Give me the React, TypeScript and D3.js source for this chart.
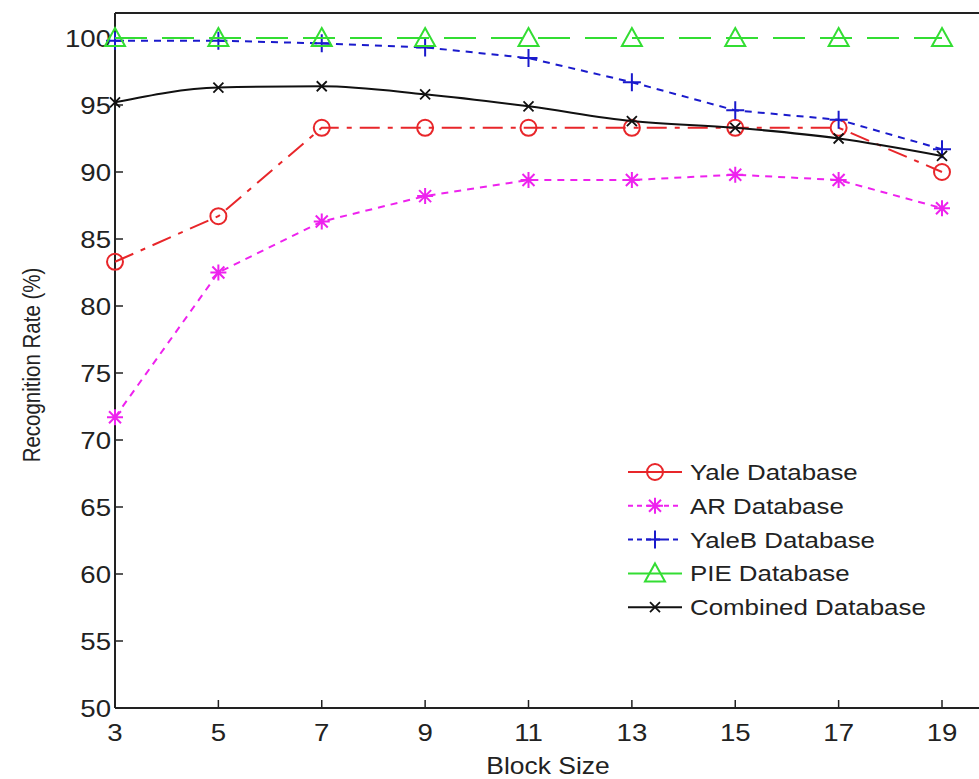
import React from "react";
import * as d3 from "d3";

const blockSizes = [3, 5, 7, 9, 11, 13, 15, 17, 19];
const yaleValues = [83.3, 86.7, 93.3, 93.3, 93.3, 93.3, 93.3, 93.3, 90.0];
const arValues = [71.7, 82.5, 86.3, 88.2, 89.4, 89.4, 89.8, 89.4, 87.3];
const yaleBValues = [99.8, 99.8, 99.6, 99.3, 98.5, 96.7, 94.6, 93.9, 91.7];
const pieValues = [100, 100, 100, 100, 100, 100, 100, 100, 100];
const combinedValues = [95.2, 96.3, 96.4, 95.8, 94.9, 93.8, 93.3, 92.5, 91.2];
const yTicks = [50, 55, 60, 65, 70, 75, 80, 85, 90, 95, 100];
const xTicks = [3, 5, 7, 9, 11, 13, 15, 17, 19];
const seriesNames = ["Yale Database", "AR Database", "YaleB Database", "PIE Database", "Combined Database"];

type Marker = "circle" | "star" | "plus" | "triangle" | "x";
const seriesDefs: { name: string; values: number[]; color: string; dash: string; legendDash: string; marker: Marker; curve: boolean }[] = [
  { name: seriesNames[0], values: yaleValues, color: "#e8262a", dash: "20,8,5,8", legendDash: "", marker: "circle", curve: false },
  { name: seriesNames[1], values: arValues, color: "#ee22ee", dash: "7,6", legendDash: "5,4", marker: "star", curve: false },
  { name: seriesNames[2], values: yaleBValues, color: "#1a1acc", dash: "7,6", legendDash: "5,4", marker: "plus", curve: false },
  { name: seriesNames[3], values: pieValues, color: "#33dd33", dash: "32,15", legendDash: "", marker: "triangle", curve: false },
  { name: seriesNames[4], values: combinedValues, color: "#111111", dash: "", legendDash: "", marker: "x", curve: true },
];

function MarkerShape({ type, x, y, color }: { type: Marker; x: number; y: number; color: string }) {
  const sw = 2;
  if (type === "circle") return <circle cx={x} cy={y} r={8} fill="none" stroke={color} strokeWidth={sw} />;
  if (type === "triangle") {
    const s = 10;
    return <path d={`M${x},${y - s}L${x + s},${y + s * 0.8}L${x - s},${y + s * 0.8}Z`} fill="none" stroke={color} strokeWidth={sw} />;
  }
  if (type === "plus") {
    const s = 9;
    return <path d={`M${x - s},${y}H${x + s}M${x},${y - s}V${y + s}`} stroke={color} strokeWidth={sw} />;
  }
  if (type === "x") {
    const s = 5;
    return <path d={`M${x - s},${y - s}L${x + s},${y + s}M${x - s},${y + s}L${x + s},${y - s}`} stroke={color} strokeWidth={1.8} />;
  }
  const s = 8, d = 6;
  return (
    <path
      d={`M${x - s},${y}H${x + s}M${x},${y - s}V${y + s}M${x - d},${y - d}L${x + d},${y + d}M${x - d},${y + d}L${x + d},${y - d}`}
      stroke={color}
      strokeWidth={2}
    />
  );
}

const font = "'Liberation Sans', Arial, sans-serif";
const SX = 1.15;

function WideText({ x, y, anchor, size, children }: { x: number; y: number; anchor: string; size: number; children: React.ReactNode }) {
  return (
    <text transform={`translate(${x},${y}) scale(${SX},1)`} textAnchor={anchor} fontFamily={font} fontSize={size} fill="#222">
      {children}
    </text>
  );
}

export default function App() {
  const W = 979, H = 779;
  const left = 115, bottom = 708, top = 13;
  const x = d3.scaleLinear().domain([3, 19]).range([left, 942]);
  const y = d3.scaleLinear().domain([50, 100]).range([bottom, 38]);
  const rightEdge = x(20);

  return (
    <svg width={W} height={H} style={{ position: "absolute", left: 0, top: 0, background: "#fff" }}>
      <line x1={left} y1={top} x2={rightEdge} y2={top} stroke="#222" strokeWidth={2} />
      <line x1={left} y1={top} x2={left} y2={bottom} stroke="#222" strokeWidth={2} />
      <line x1={left} y1={bottom} x2={rightEdge} y2={bottom} stroke="#222" strokeWidth={2} />
      {yTicks.map((t) => (
        <g key={"y" + t}>
          <line x1={left} x2={left + 8} y1={y(t)} y2={y(t)} stroke="#222" strokeWidth={1.5} />
          <WideText x={left - 4} y={y(t) + 8.5} anchor="end" size={24}>
            {t}
          </WideText>
        </g>
      ))}
      {xTicks.map((t) => (
        <g key={"x" + t}>
          <line x1={x(t)} x2={x(t)} y1={bottom} y2={bottom - 8} stroke="#222" strokeWidth={1.5} />
          <WideText x={x(t)} y={bottom + 33} anchor="middle" size={24}>
            {t}
          </WideText>
        </g>
      ))}
      <WideText x={548} y={774} anchor="middle" size={23}>
        Block Size
      </WideText>
      <text transform={`translate(40,365) rotate(-90) scale(1,1.2)`} textAnchor="middle" fontFamily={font} fontSize={20.5} fill="#222">
        Recognition Rate (%)
      </text>

      {seriesDefs.map((s) => {
        const pts = blockSizes.map((b, i) => [x(b), y(s.values[i])] as [number, number]);
        const line = d3.line().curve(s.curve ? d3.curveMonotoneX : d3.curveLinear)(pts) || "";
        return (
          <g key={s.name}>
            <path d={line} fill="none" stroke={s.color} strokeWidth={2} strokeDasharray={s.dash} />
            {pts.map((p, i) => (
              <MarkerShape key={i} type={s.marker} x={p[0]} y={p[1]} color={s.color} />
            ))}
          </g>
        );
      })}

      {seriesDefs.map((s, i) => {
        const ly = 472 + i * 33.8;
        return (
          <g key={"l" + s.name}>
            <line x1={628} x2={682} y1={ly} y2={ly} stroke={s.color} strokeWidth={2} strokeDasharray={s.legendDash} />
            <MarkerShape type={s.marker} x={655} y={ly} color={s.color} />
            <WideText x={690} y={ly + 8} anchor="start" size={22.5}>
              {s.name}
            </WideText>
          </g>
        );
      })}
    </svg>
  );
}
